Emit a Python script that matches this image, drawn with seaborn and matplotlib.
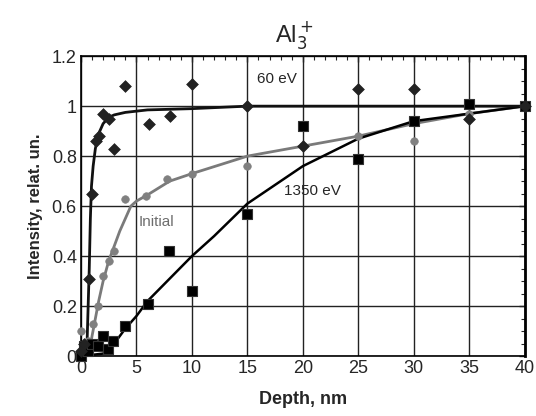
import numpy as np
import pandas as pd
import matplotlib
matplotlib.use('Agg')
import matplotlib.pyplot as plt
import seaborn as sns
from matplotlib.ticker import MultipleLocator, FuncFormatter

# measured points
depth_60 = [0.0, 0.3, 0.7, 1.0, 1.35, 1.6, 2.0, 2.5, 3.0, 4.0, 6.1, 8.0, 10.0, 15.0, 20.0, 25.0, 30.0, 35.0, 40.0]
int_60 = [0.02, 0.05, 0.31, 0.65, 0.86, 0.88, 0.97, 0.95, 0.83, 1.08, 0.93, 0.96, 1.09, 1.0, 0.84, 1.07, 1.07, 0.95, 1.0]

depth_init = [0.0, 0.3, 0.6, 1.1, 1.5, 2.0, 2.5, 3.0, 4.0, 5.9, 7.8, 10.0, 15.0, 20.0, 25.0, 30.0, 35.0, 40.0]
int_init = [0.10, 0.03, 0.06, 0.13, 0.20, 0.32, 0.38, 0.42, 0.63, 0.64, 0.71, 0.73, 0.76, 0.84, 0.88, 0.86, 0.97, 1.0]

depth_1350 = [0.0, 0.3, 0.6, 1.0, 1.5, 2.0, 2.4, 2.9, 4.0, 6.0, 7.9, 10.0, 15.0, 20.0, 25.0, 30.0, 35.0, 40.0]
int_1350 = [0.0, 0.04, 0.02, 0.05, 0.04, 0.08, 0.03, 0.06, 0.12, 0.21, 0.42, 0.26, 0.57, 0.92, 0.79, 0.94, 1.01, 1.0]

# fitted curves
fit60_x = [0.3, 0.55, 0.65, 0.75, 0.85, 0.95, 1.1, 1.3, 1.6, 2.0, 2.5, 3.0, 4.0, 6.0, 10.0, 15.0, 40.0]
fit60_y = [0.0, 0.05, 0.2, 0.35, 0.55, 0.68, 0.76, 0.83, 0.89, 0.93, 0.955, 0.965, 0.975, 0.985, 0.99, 1.0, 1.0]

fitinit_x = [0.7, 1.0, 1.3, 1.6, 2.0, 2.5, 3.0, 3.5, 4.0, 4.5, 5.0, 6.0, 8.0, 10.0, 15.0, 20.0, 25.0, 30.0, 35.0, 40.0]
fitinit_y = [0.0, 0.08, 0.15, 0.22, 0.30, 0.38, 0.44, 0.50, 0.55, 0.60, 0.62, 0.645, 0.70, 0.73, 0.80, 0.84, 0.88, 0.93, 0.97, 1.0]

fit1350_x = [0.0, 2.0, 3.0, 4.0, 5.0, 6.0, 8.0, 10.0, 12.0, 15.0, 20.0, 25.0, 30.0, 35.0, 40.0]
fit1350_y = [0.0, 0.01, 0.05, 0.11, 0.16, 0.22, 0.31, 0.40, 0.48, 0.61, 0.76, 0.87, 0.94, 0.97, 1.0]

sns.set_style('white')
plt.rcParams['font.family'] = ['Liberation Sans', 'DejaVu Sans']

fig = plt.figure(figsize=(5.36, 4.16), dpi=100)
ax = fig.add_axes([0.151, 0.144, 0.828, 0.721])

# curves
sns.lineplot(x=fitinit_x, y=fitinit_y, sort=False, color='#7a7a7a', linewidth=2, ax=ax)
sns.lineplot(x=fit1350_x, y=fit1350_y, sort=False, color='black', linewidth=1.8, ax=ax)
sns.lineplot(x=fit60_x, y=fit60_y, sort=False, color='#111111', linewidth=2, ax=ax)

# points
sns.scatterplot(x=depth_init, y=int_init, marker='o', s=30, color='#808080',
                edgecolor='#808080', ax=ax, clip_on=False, zorder=4)
sns.scatterplot(x=depth_1350, y=int_1350, marker='s', s=45, color='black',
                edgecolor='#333333', linewidth=0.8, ax=ax, clip_on=False, zorder=5)
sns.scatterplot(x=depth_60, y=int_60, marker='D', s=36, color='#222222',
                edgecolor='#222222', ax=ax, clip_on=False, zorder=6)

ax.text(17.7, 1.11, '60 eV', fontsize=11, ha='center', va='center')
ax.text(20.9, 0.66, '1350 eV', fontsize=11, ha='center', va='center')
ax.text(6.8, 0.535, 'Initial', fontsize=11, ha='center', va='center', color='#6e6e6e')

ax.set_xlim(0, 40)
ax.set_ylim(0, 1.2)
ax.xaxis.set_major_locator(MultipleLocator(5))
ax.xaxis.set_minor_locator(MultipleLocator(1))
ax.yaxis.set_major_locator(MultipleLocator(0.2))
ax.yaxis.set_minor_locator(MultipleLocator(0.05))
ax.yaxis.set_major_formatter(FuncFormatter(lambda v, p: f'{v:g}'))
ax.tick_params(which='both', direction='in', top=True, right=True, labelsize=13, pad=3)
ax.tick_params(which='major', length=4, width=1)
ax.tick_params(which='minor', length=3, width=0.8)
ax.grid(True, which='major', color='#222222', linewidth=1)
for side in ['left', 'bottom', 'top']:
    ax.spines[side].set_color('black')
    ax.spines[side].set_linewidth(1.2)
ax.spines['right'].set_color('black')
ax.spines['right'].set_linewidth(2)

ax.set_xlabel('Depth, nm', fontsize=13, fontweight='bold', labelpad=10)
ax.set_ylabel('Intensity, relat. un.', fontsize=12, fontweight='bold', labelpad=6)
ax.set_title(r'Al$_3^+$', fontsize=17, pad=10, x=0.48)

fig.savefig('out.png', dpi=100)
